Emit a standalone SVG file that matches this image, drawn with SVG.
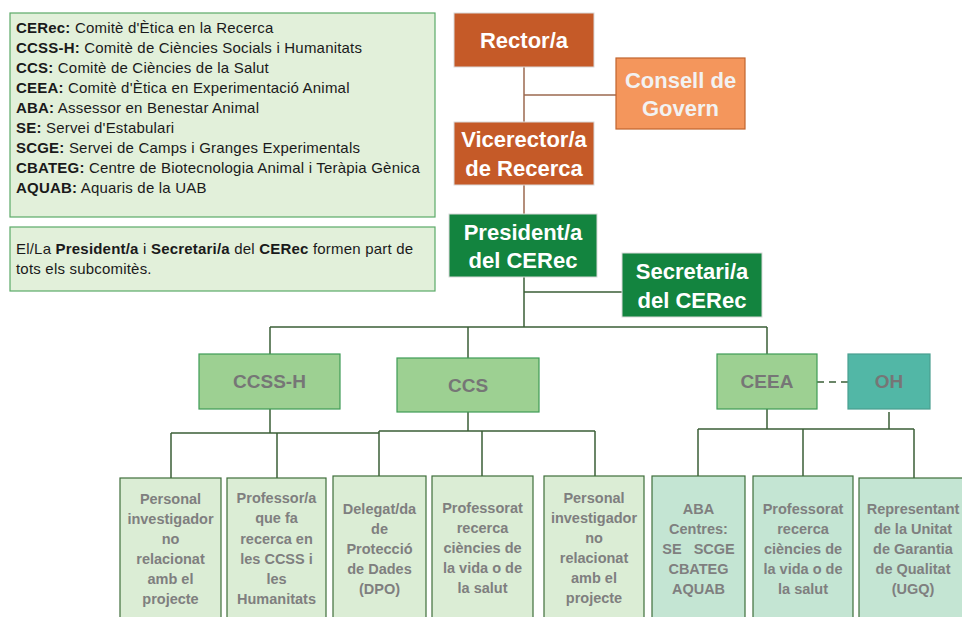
<svg xmlns="http://www.w3.org/2000/svg" width="962" height="617" viewBox="0 0 962 617">
<style>
.leg{fill:#E2F0DA;stroke:#5BAA68;stroke-width:1.2}
.lt{font-family:"Liberation Sans",Arial,sans-serif;font-size:15px;letter-spacing:0.2px;fill:#1a1a1a}
.b{font-weight:bold}
.dk{fill:#C55A28;stroke:#D9D9D9;stroke-width:1}
.lo{fill:#F4965C;stroke:#C0642E;stroke-width:1.2}
.gr{fill:#13843F;stroke:#D9D9D9;stroke-width:1}
.tt{font-family:"Liberation Sans",Arial,sans-serif;font-size:22px;font-weight:bold;text-anchor:middle;fill:#FFFFFF}
.tc{fill:#F2F2F2}
.mg{fill:#9DD092;stroke:#3E9C56;stroke-width:1.2}
.oh{fill:#52B7A6;stroke:#4A9F90;stroke-width:1.2}
.mt{font-family:"Liberation Sans",Arial,sans-serif;font-size:19px;font-weight:bold;text-anchor:middle;fill:#767676}
.lg{fill:#DBEDD5;stroke:#3F6E3B;stroke-width:1.2}
.mi{fill:#C4E5D3;stroke:#3F6E3B;stroke-width:1.2}
.bt{font-family:"Liberation Sans",Arial,sans-serif;font-size:14.5px;font-weight:bold;text-anchor:middle;fill:#7F7F7F;white-space:pre}
.cb{fill:none;stroke:#9C6A50;stroke-width:1.5}
.cg{fill:none;stroke:#3B5F37;stroke-width:1.5}
</style>
<g id="legend">
<rect class="leg" x="10" y="13" width="425" height="204"/>
<text class="lt" x="16" y="33"><tspan class="b">CERec:</tspan> Comitè d'Ètica en la Recerca</text>
<text class="lt" x="16" y="53"><tspan class="b">CCSS-H:</tspan> Comitè de Ciències Socials i Humanitats</text>
<text class="lt" x="16" y="73"><tspan class="b">CCS:</tspan> Comitè de Ciències de la Salut</text>
<text class="lt" x="16" y="93"><tspan class="b">CEEA:</tspan> Comitè d'Ètica en Experimentació Animal</text>
<text class="lt" x="16" y="113"><tspan class="b">ABA:</tspan> Assessor en Benestar Animal</text>
<text class="lt" x="16" y="133"><tspan class="b">SE:</tspan> Servei d'Estabulari</text>
<text class="lt" x="16" y="153"><tspan class="b">SCGE:</tspan> Servei de Camps i Granges Experimentals</text>
<text class="lt" x="16" y="173"><tspan class="b">CBATEG:</tspan> Centre de Biotecnologia Animal i Teràpia Gènica</text>
<text class="lt" x="16" y="193"><tspan class="b">AQUAB:</tspan> Aquaris de la UAB</text>
</g>
<g id="note">
<rect class="leg" x="10" y="227" width="425" height="64"/>
<text class="lt" x="16" y="254">El/La <tspan class="b">President/a</tspan> i <tspan class="b">Secretari/a</tspan> del <tspan class="b">CERec</tspan> formen part de</text>
<text class="lt" x="16" y="274">tots els subcomitès.</text>
</g>
<g id="connectors">
<path class="cb" d="M524,67 V122 M524,95 H616 M524,185 V214"/>
<path class="cg" d="M524,277 V327 M524,292 H622 M270,327 H767 M270,327 V354 M468,327 V358 M767,327 V354"/>
<path class="cg" d="M817,382 H848" stroke-dasharray="7,5"/>
<path class="cg" d="M270,409 V433 M171,433 H379 M171,433 V478 M277,433 V478"/>
<path class="cg" d="M468,412 V431 M379,431 H595 M379,431 V476 M482,431 V476 M595,431 V476"/>
<path class="cg" d="M767,409 V429 M889,412 V429 M698,429 H914 M698,429 V476 M803,429 V476 M914,429 V478"/>
</g>
<g id="rector">
<rect class="dk" x="454" y="13" width="140" height="54"/>
<text class="tt" x="524" y="48">Rector/a</text>
</g>
<g id="consell">
<rect class="lo" x="616" y="58" width="129" height="71"/>
<text class="tt tc" x="680.5" y="88">Consell de</text>
<text class="tt tc" x="680.5" y="116">Govern</text>
</g>
<g id="vicerector">
<rect class="dk" x="454" y="122" width="140" height="63"/>
<text class="tt" x="524" y="147">Vicerector/a</text>
<text class="tt" x="524" y="176">de Recerca</text>
</g>
<g id="president">
<rect class="gr" x="449" y="214" width="148" height="63"/>
<text class="tt" x="523" y="240">President/a</text>
<text class="tt" x="523" y="268">del CERec</text>
</g>
<g id="secretari">
<rect class="gr" x="622" y="253" width="140" height="64"/>
<text class="tt" x="692" y="279">Secretari/a</text>
<text class="tt" x="692" y="308">del CERec</text>
</g>
<g id="ccssh">
<rect class="mg" x="199" y="354" width="141" height="55"/>
<text class="mt" x="269.5" y="388">CCSS-H</text>
</g>
<g id="ccs">
<rect class="mg" x="397" y="358" width="142" height="54"/>
<text class="mt" x="468" y="392">CCS</text>
</g>
<g id="ceea">
<rect class="mg" x="717" y="354" width="100" height="55"/>
<text class="mt" x="767" y="388">CEEA</text>
</g>
<g id="oh">
<rect class="oh" x="848" y="354" width="82" height="55"/>
<text class="mt" x="889" y="388">OH</text>
</g>
<g id="b1">
<rect class="lg" x="120" y="478" width="101" height="150"/>
<text class="bt" x="170.5" y="504">Personal</text>
<text class="bt" x="170.5" y="524">investigador</text>
<text class="bt" x="170.5" y="544">no</text>
<text class="bt" x="170.5" y="564">relacionat</text>
<text class="bt" x="170.5" y="584">amb el</text>
<text class="bt" x="170.5" y="604">projecte</text>
</g>
<g id="b2">
<rect class="lg" x="227" y="478" width="99" height="150"/>
<text class="bt" x="276.5" y="503">Professor/a</text>
<text class="bt" x="276.5" y="523">que fa</text>
<text class="bt" x="276.5" y="544">recerca en</text>
<text class="bt" x="276.5" y="564">les CCSS i</text>
<text class="bt" x="276.5" y="584">les</text>
<text class="bt" x="276.5" y="604">Humanitats</text>
</g>
<g id="b3">
<rect class="lg" x="333" y="476" width="93" height="152"/>
<text class="bt" x="379.5" y="514">Delegat/da</text>
<text class="bt" x="379.5" y="534">de</text>
<text class="bt" x="379.5" y="554">Protecció</text>
<text class="bt" x="379.5" y="574">de Dades</text>
<text class="bt" x="379.5" y="594">(DPO)</text>
</g>
<g id="b4">
<rect class="lg" x="432" y="476" width="101" height="152"/>
<text class="bt" x="482.5" y="513">Professorat</text>
<text class="bt" x="482.5" y="533">recerca</text>
<text class="bt" x="482.5" y="553">ciències de</text>
<text class="bt" x="482.5" y="573">la vida o de</text>
<text class="bt" x="482.5" y="593">la salut</text>
</g>
<g id="b5">
<rect class="lg" x="544" y="476" width="100" height="152"/>
<text class="bt" x="594" y="503">Personal</text>
<text class="bt" x="594" y="523">investigador</text>
<text class="bt" x="594" y="543">no</text>
<text class="bt" x="594" y="563">relacionat</text>
<text class="bt" x="594" y="583">amb el</text>
<text class="bt" x="594" y="603">projecte</text>
</g>
<g id="b6">
<rect class="mi" x="652" y="476" width="93" height="152"/>
<text class="bt" x="698.5" y="514">ABA</text>
<text class="bt" x="698.5" y="534">Centres:</text>
<text class="bt" x="698.5" y="554">SE   SCGE</text>
<text class="bt" x="698.5" y="574">CBATEG</text>
<text class="bt" x="698.5" y="594">AQUAB</text>
</g>
<g id="b7">
<rect class="mi" x="753" y="476" width="100" height="152"/>
<text class="bt" x="803" y="514">Professorat</text>
<text class="bt" x="803" y="534">recerca</text>
<text class="bt" x="803" y="554">ciències de</text>
<text class="bt" x="803" y="574">la vida o de</text>
<text class="bt" x="803" y="594">la salut</text>
</g>
<g id="b8">
<rect class="mi" x="859" y="478" width="108" height="150"/>
<text class="bt" x="913" y="514">Representant</text>
<text class="bt" x="913" y="534">de la Unitat</text>
<text class="bt" x="913" y="554">de Garantia</text>
<text class="bt" x="913" y="574">de Qualitat</text>
<text class="bt" x="913" y="594">(UGQ)</text>
</g>
</svg>
